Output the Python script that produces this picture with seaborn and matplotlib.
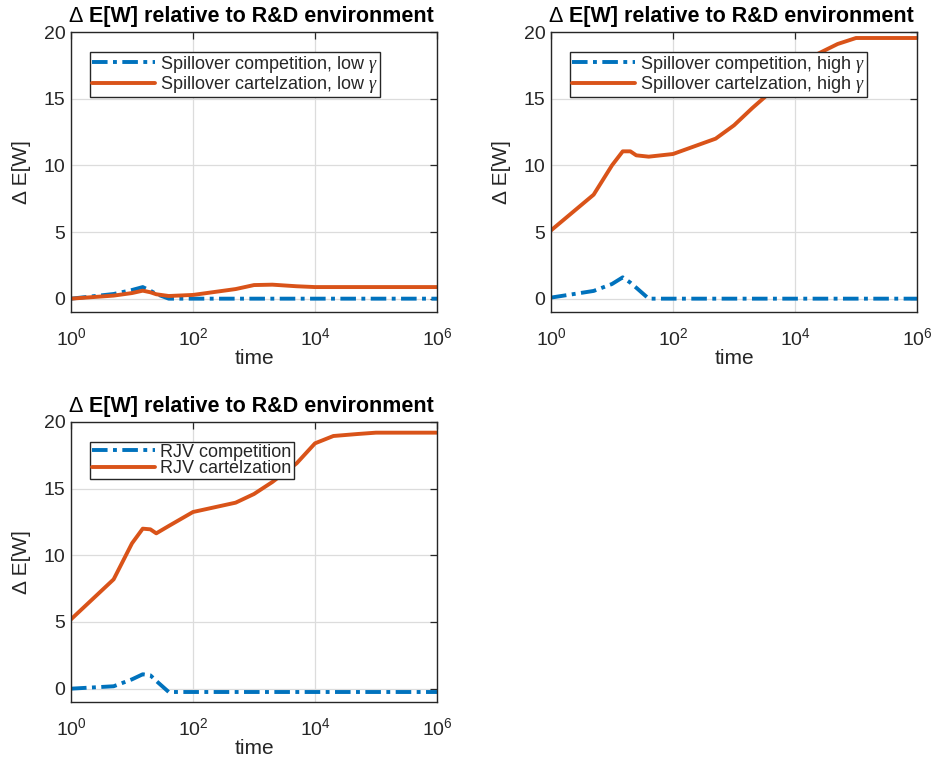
import numpy as np
import pandas as pd
import matplotlib
matplotlib.use("Agg")
import matplotlib.pyplot as plt
import seaborn as sns
from matplotlib.ticker import FixedLocator, NullLocator

sns.set_theme(style="white")
plt.rcParams['font.family'] = ['Liberation Sans', 'DejaVu Sans']
plt.rcParams['mathtext.fontset'] = 'custom'
plt.rcParams['mathtext.rm'] = 'Liberation Sans'
plt.rcParams['mathtext.it'] = 'Liberation Serif:italic'
plt.rcParams['mathtext.bf'] = 'Liberation Sans:bold'
plt.rcParams['mathtext.default'] = 'it'

# ---- data ----
time = [1, 5, 10, 15, 20, 25, 40, 100, 500, 1000, 2000, 5000, 10000, 20000, 50000, 100000, 1000000]

spill_comp_low = [0.0, 0.35, 0.65, 0.87, 0.6, 0.35, 0.0, 0.0, 0.0, 0.0, 0.0, 0.0, 0.0, 0.0, 0.0, 0.0, 0.0]
spill_cart_low = [0.0, 0.23, 0.42, 0.6, 0.48, 0.33, 0.2, 0.28, 0.72, 1.02, 1.05, 0.93, 0.87, 0.87, 0.87, 0.87, 0.87]

spill_comp_high = [0.08, 0.58, 1.1, 1.6, 1.2, 0.82, 0.0, 0.0, 0.0, 0.0, 0.0, 0.0, 0.0, 0.0, 0.0, 0.0, 0.0]
spill_cart_high = [5.12, 7.8, 10.0, 11.05, 11.05, 10.75, 10.65, 10.85, 12.0, 13.0, 14.3, 15.9, 17.1, 18.2, 19.1, 19.55, 19.55]

rjv_comp = [0.0, 0.18, 0.7, 1.08, 1.0, 0.58, -0.25, -0.25, -0.25, -0.25, -0.25, -0.25, -0.25, -0.25, -0.25, -0.25, -0.25]
rjv_cart = [5.2, 8.2, 10.9, 12.0, 11.95, 11.65, 12.2, 13.25, 13.95, 14.6, 15.5, 16.9, 18.4, 18.95, 19.1, 19.2, 19.2]

panels = [
    ("Spillover competition, low $\\gamma$", spill_comp_low,
     "Spillover cartelzation, low $\\gamma$", spill_cart_low),
    ("Spillover competition, high $\\gamma$", spill_comp_high,
     "Spillover cartelzation, high $\\gamma$", spill_cart_high),
    ("RJV competition", rjv_comp, "RJV cartelzation", rjv_cart),
]
title_delta = "\u0394 "
title_rest = "E[W] relative to R&D environment"
xticks = [1, 100, 10000, 1000000]
xticklabels = ["$\\mathrm{10^{0}}$", "$\\mathrm{10^{2}}$", "$\\mathrm{10^{4}}$", "$\\mathrm{10^{6}}$"]
yticks = [0, 5, 10, 15, 20]

blue = "#0072BD"
orange = "#D95319"

fig = plt.figure(figsize=(9.35, 7.61), dpi=100)
W, H = 935, 761
rects = [
    (71, 32, 437, 312),
    (551, 32, 917, 312),
    (71, 422, 437, 702),
]

for i, ((l1, y1, l2, y2), (x0, t0, x1, b1)) in enumerate(zip(panels, rects)):
    ax = fig.add_axes([x0 / W, 1 - b1 / H, (x1 - x0) / W, (b1 - t0) / H])
    df = pd.DataFrame({"time": time, "a": y1, "b": y2})
    sns.lineplot(data=df, x="time", y="a", ax=ax, color=blue, lw=2.8,
                 linestyle=(0, (4, 1.4, 1.0, 1.4)), label=l1)
    sns.lineplot(data=df, x="time", y="b", ax=ax, color=orange, lw=2.8,
                 linestyle="-", label=l2)
    ax.set_xscale("log")
    ax.set_xlim(1, 1e6)
    ax.set_ylim(-1, 20)
    ax.xaxis.set_major_locator(FixedLocator(xticks))
    ax.xaxis.set_minor_locator(NullLocator())
    ax.set_xticklabels(xticklabels)
    ax.set_yticks(yticks)
    ax.grid(True, color="#dcdcdc", lw=0.9)
    ax.tick_params(axis="both", which="both", direction="in", top=True, right=True,
                   length=5, width=0.9, color="#262626", labelsize=14,
                   labelcolor="#262626", pad=4)
    ax.tick_params(axis="x", pad=11)
    for s in ax.spines.values():
        s.set_color("#262626")
        s.set_linewidth(1.0)
        s.set_visible(True)
    ax.set_xlabel("time", fontsize=15, color="#262626", labelpad=0)
    ax.set_ylabel("\u0394 E[W]", fontsize=15, color="#262626", labelpad=9)
    # title: non-bold Delta followed by bold text
    t = ax.text(0.5 + 7 / 366, 1.0 + 10 / 280, title_rest, transform=ax.transAxes,
                ha="center", va="baseline", fontsize=15.5, fontweight="bold", color="black")
    ax.annotate(title_delta, xy=(0, 0), xycoords=t, ha="right", va="bottom",
                fontsize=15.5, color="black")
    leg = ax.legend(loc="upper left", bbox_to_anchor=(0.052, 0.929), fontsize=13,
                    handlelength=3.5, handletextpad=0.3, borderpad=0.1,
                    labelspacing=-0.02, borderaxespad=0.0, frameon=True,
                    fancybox=False, framealpha=1)
    leg.get_frame().set_edgecolor("#262626")
    leg.get_frame().set_linewidth(1.0)

fig.savefig("out.png", dpi=100)
